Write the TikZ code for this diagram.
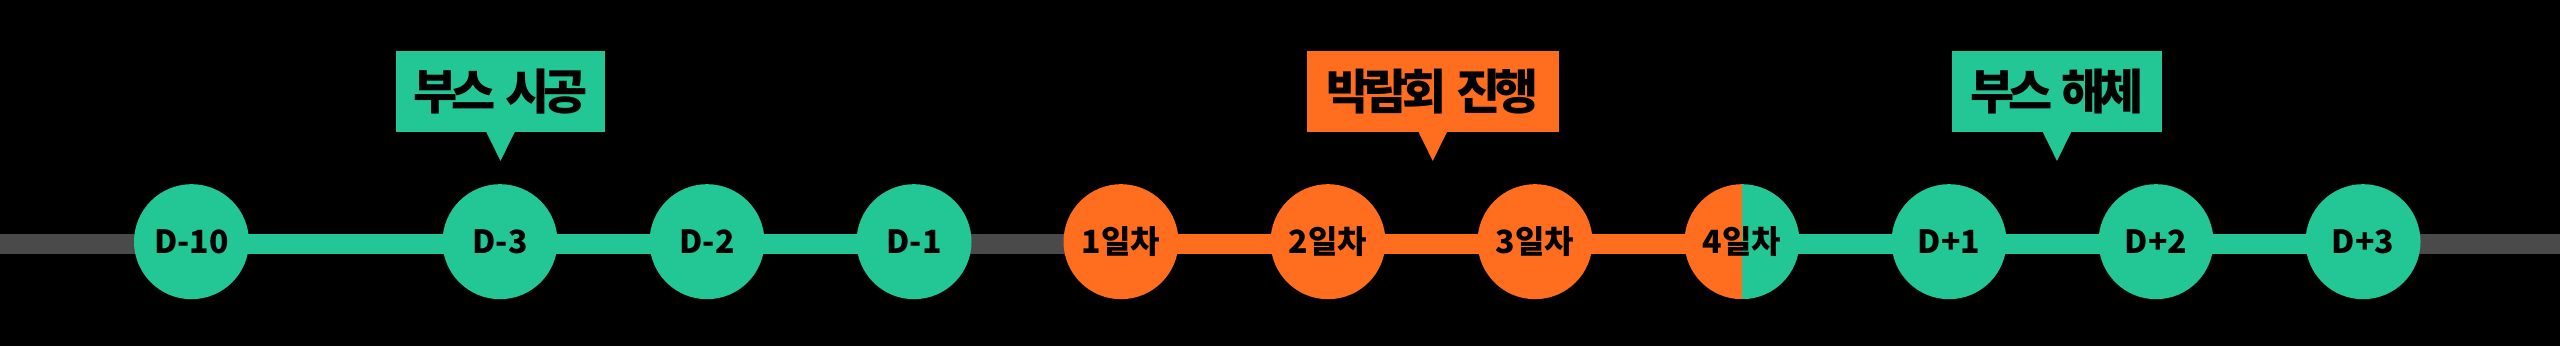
\documentclass[tikz,border=0pt]{standalone}
\usepackage{fontspec}
\setmainfont{Noto Sans CJK KR}
\newfontfamily\circfont{Noto Sans CJK KR Black}
\newfontfamily\calfont{Noto Sans CJK KR Black}[LetterSpace=-13,WordSpace=2]
\definecolor{grn}{HTML}{23C795}
\definecolor{org}{HTML}{FF6D1F}
\definecolor{gry}{HTML}{4A4A4A}
\pgfdeclarelayer{back}
\pgfdeclarelayer{lines}
\pgfsetlayers{back,lines,main}
\begin{document}
\begin{tikzpicture}[x=1pt,y=1pt,
  dot/.style={circle, minimum size=115pt, inner sep=0pt, fill=#1,
    font=\circfont\fontsize{32}{38}\selectfont, text=black},
  dot/.default=grn,
  seg/.style={line width=20.6pt, draw=#1},
  callout/.style={rectangle, fill=#1, minimum height=81.6pt, inner sep=0pt,
    font=\calfont\fontsize{48}{56}\selectfont, text=black},
  tip/.style={fill=#1}
]
\begin{pgfonlayer}{back}
\fill[black] (0,0) rectangle (2560,346);
\end{pgfonlayer}
\useasboundingbox (0,0) rectangle (2560,346);

% timeline nodes
\node[dot] (dm10) at (191.5,104.3) {D-10};
\node[dot] (dm3) at (500,104.3) {D-3};
\node[dot] (dm2) at (707,104.3) {D-2};
\node[dot] (dm1) at (914,104.3) {D-1};
\node[dot=org] (e1) at (1121,104.3) {1일차};
\node[dot=org] (e2) at (1328,104.3) {2일차};
\node[dot=org] (e3) at (1535,104.3) {3일차};
\node[circle, minimum size=115pt, inner sep=0pt,
  font=\circfont\fontsize{32}{38}\selectfont, text=black,
  path picture={
    \fill[org] (path picture bounding box.south west) rectangle (path picture bounding box.north);
    \fill[grn] (path picture bounding box.south) rectangle (path picture bounding box.north east);
  }] (e4) at (1742,104.3) {4일차};
\node[dot] (dp1) at (1949,104.3) {D+1};
\node[dot] (dp2) at (2156,104.3) {D+2};
\node[dot] (dp3) at (2363,104.3) {D+3};

\coordinate (lend) at (0,102);
\coordinate (rend) at (2560,102);

% connectors
\begin{pgfonlayer}{lines}
\draw[seg=gry] (lend) -- ([yshift=-2.3pt]dm10.center);
\draw[seg=grn] ([yshift=-2.3pt]dm10.center) -- ([yshift=-2.3pt]dm3.center) -- ([yshift=-2.3pt]dm2.center) -- ([yshift=-2.3pt]dm1.center);
\draw[seg=gry] ([yshift=-2.3pt]dm1.center) -- ([yshift=-2.3pt]e1.center);
\draw[seg=org] ([yshift=-2.3pt]e1.center) -- ([yshift=-2.3pt]e2.center) -- ([yshift=-2.3pt]e3.center) -- ([yshift=-2.3pt]e4.center);
\draw[seg=grn] ([yshift=-2.3pt]e4.center) -- ([yshift=-2.3pt]dp1.center) -- ([yshift=-2.3pt]dp2.center) -- ([yshift=-2.3pt]dp3.center);
\draw[seg=gry] ([yshift=-2.3pt]dp3.center) -- (rend);
\end{pgfonlayer}

% callouts
\node[callout=grn, minimum width=209pt] (c1) at (500.5,254.5) {부스 시공};
\fill[tip=grn] ([xshift=-14.5pt,yshift=1pt]c1.south) -- ([xshift=14.5pt,yshift=1pt]c1.south) -- ([yshift=-28.4pt]c1.south) -- cycle;
\node[callout=org, minimum width=251.5pt] (c2) at (1432.75,254.5) {박람회 진행};
\fill[tip=org] ([xshift=-14.5pt,yshift=1pt]c2.south) -- ([xshift=14.5pt,yshift=1pt]c2.south) -- ([yshift=-28.4pt]c2.south) -- cycle;
\node[callout=grn, minimum width=210pt] (c3) at (2057,254.5) {부스 해체};
\fill[tip=grn] ([xshift=-14.5pt,yshift=1pt]c3.south) -- ([xshift=14.5pt,yshift=1pt]c3.south) -- ([yshift=-28.4pt]c3.south) -- cycle;
\end{tikzpicture}
\end{document}
